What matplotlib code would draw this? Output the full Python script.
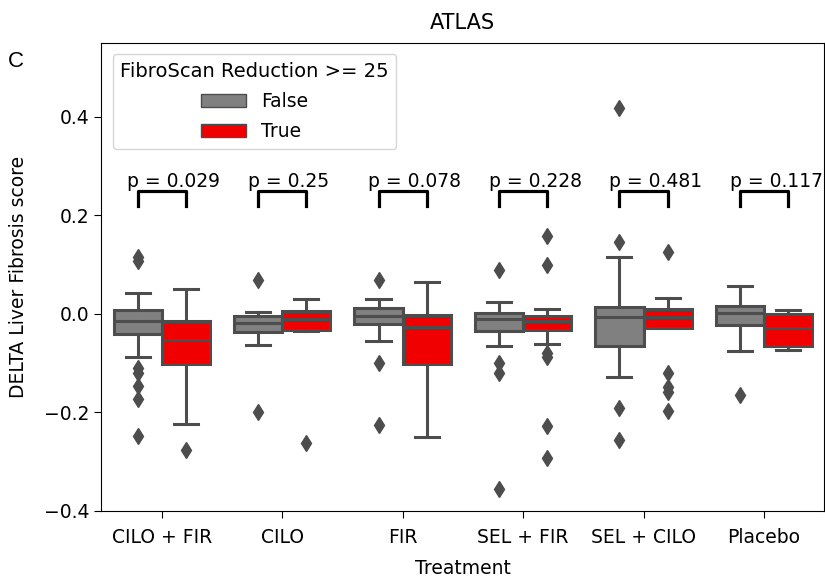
import numpy as np
import matplotlib.pyplot as plt
from matplotlib.patches import Patch

# dados
treatments = ['CILO + FIR', 'CILO', 'FIR', 'SEL + FIR', 'SEL + CILO', 'Placebo']
p_values = ['0.029', '0.25', '0.078', '0.228', '0.481', '0.117']

# (whislo, q1, med, q3, whishi) para FibroScan Reduction >= 25 == False
false_stats = [
    (-0.087, -0.041, -0.014, 0.007, 0.042),
    (-0.064, -0.037, -0.018, -0.004, 0.003),
    (-0.055, -0.021, -0.005, 0.011, 0.030),
    (-0.066, -0.034, -0.010, 0.001, 0.025),
    (-0.128, -0.066, -0.007, 0.014, 0.115),
    (-0.076, -0.022, 0.001, 0.016, 0.057),
]
false_fliers = [
    [0.108, 0.115, -0.110, -0.120, -0.146, -0.173, -0.247],
    [0.068, -0.199],
    [0.069, -0.100, -0.225],
    [0.089, -0.100, -0.120, -0.355],
    [0.418, 0.145, -0.191, -0.256],
    [-0.164],
]

# == True
true_stats = [
    (-0.223, -0.102, -0.053, -0.014, 0.050),
    (-0.035, -0.032, -0.010, 0.006, 0.030),
    (-0.249, -0.102, -0.026, -0.002, 0.064),
    (-0.062, -0.032, -0.014, -0.005, 0.010),
    (-0.029, -0.029, -0.007, 0.010, 0.033),
    (-0.074, -0.065, -0.028, 0.000, 0.008),
]
true_fliers = [
    [-0.277],
    [-0.262],
    [],
    [0.158, 0.099, -0.080, -0.088, -0.228, -0.293],
    [0.126, -0.120, -0.149, -0.159, -0.197],
    [],
]

plt.rcParams['font.family'] = 'DejaVu Sans'
plt.rcParams['font.size'] = 13.5

edge = '#4d4d4d'
fill = {'False': '#808080', 'True': '#f00000'}


def make_stats(stats, fliers):
    out = []
    for s, f in zip(stats, fliers):
        out.append(dict(whislo=s[0], q1=s[1], med=s[2], q3=s[3], whishi=s[4],
                        fliers=np.array(f)))
    return out


fig = plt.figure(figsize=(8.25, 5.78), dpi=100)
ax = fig.add_axes([0.123, 0.116, 0.876, 0.81])

x = np.arange(len(treatments))
for stats, fliers, off, key in [(false_stats, false_fliers, -0.2, 'False'),
                                (true_stats, true_fliers, 0.2, 'True')]:
    ax.bxp(make_stats(stats, fliers), positions=x + off, widths=0.4,
           patch_artist=True, manage_ticks=False,
           boxprops=dict(facecolor=fill[key], edgecolor=edge, linewidth=2.2),
           medianprops=dict(color=edge, linewidth=2.2),
           whiskerprops=dict(color=edge, linewidth=2.2),
           capprops=dict(color=edge, linewidth=2.2),
           flierprops=dict(marker='d', markerfacecolor=edge, markeredgecolor=edge,
                           markersize=8, linestyle='none'))

# barras com p-valor
y, h = 0.219, 0.03
for i, p in enumerate(p_values):
    x1, x2 = i - 0.2, i + 0.2
    ax.plot([x1, x1, x2, x2], [y, y + h, y + h, y], lw=2.3, c='k')
    ax.text(x1 - 0.085, y + h, 'p = ' + p, ha='left', va='bottom', fontsize=13.5)

ax.set_xlim(-0.5, len(treatments) - 0.5)
ax.set_ylim(-0.4, 0.55)
ax.set_xticks(x)
ax.set_xticklabels(treatments)
ax.set_yticks([-0.4, -0.2, 0.0, 0.2, 0.4])
ax.tick_params(axis='x', length=5, pad=7)
ax.tick_params(axis='y', length=5)
ax.set_xlabel('Treatment', labelpad=9)
ax.set_ylabel('DELTA Liver Fibrosis score', labelpad=12)
ax.set_title('ATLAS', pad=10, fontsize=15)

handles = [Patch(facecolor=fill['False'], edgecolor=edge, label='False'),
           Patch(facecolor=fill['True'], edgecolor=edge, label='True')]
ax.legend(handles=handles, title='FibroScan Reduction >= 25', loc='upper left',
          fontsize=13.5, title_fontsize=14, handlelength=2.4, labelspacing=0.6,
          borderaxespad=0.6)

fig.text(0.009, 0.893, 'C', fontsize=16, family='Liberation Sans', va='center')

fig.savefig('out.png', dpi=100)
